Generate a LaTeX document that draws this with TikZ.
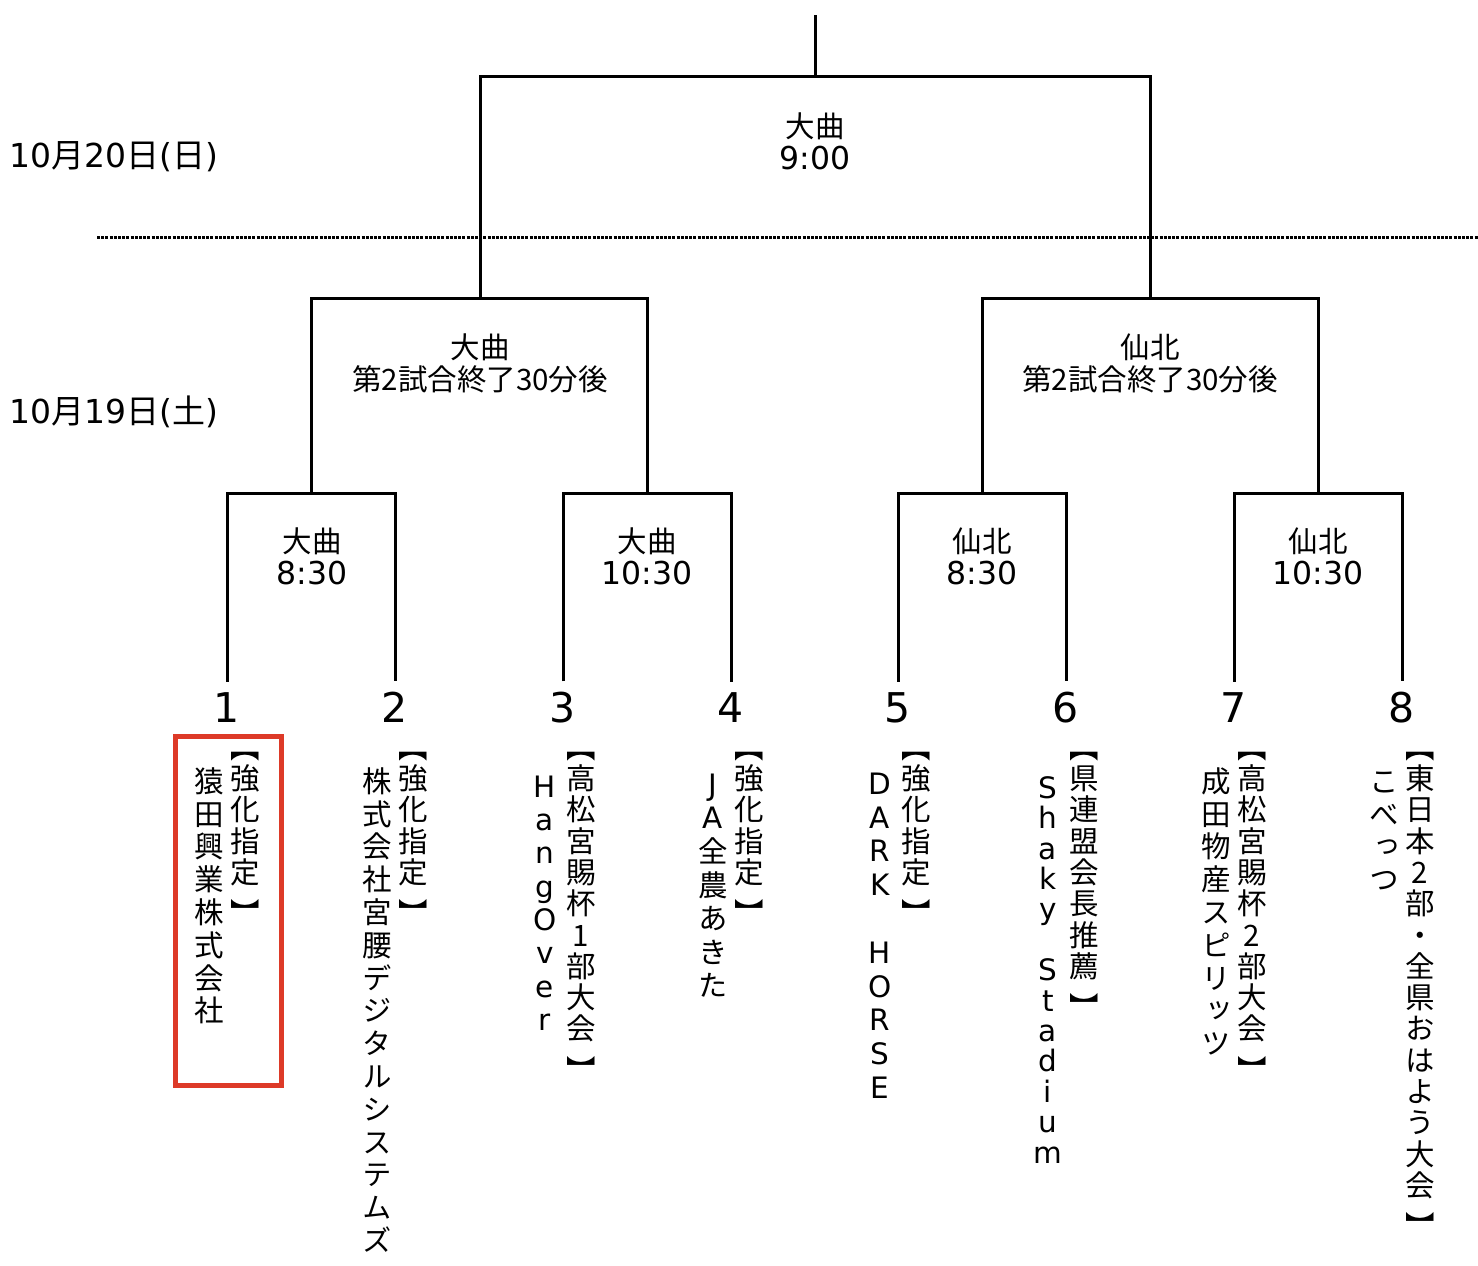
\documentclass[tikz,border=0pt]{standalone}
\usepackage{fontspec}
\setmainfont{Noto Sans CJK JP}
\newfontfamily\latfont{DejaVu Sans}
\newfontfamily\tatefont[RawFeature=+vert]{Noto Sans CJK JP}
\newcommand\lat[1]{{\latfont #1}}
\newcommand\tim[1]{{\latfont\fontsize{31.5}{32}\selectfont #1}}
\newcommand\kakko{\raisebox{-10pt}{】}}
\definecolor{boxred}{RGB}{221,58,40}

% vertical stack of characters: [font][pitch]{text}
\ExplSyntaxOn
\NewDocumentCommand \tate { O{} O{31.3pt} m }
  {
    \vbox
      {
        \baselineskip = #2 \relax
        \lineskiplimit = -\maxdimen
        \tl_map_inline:nn {#3}
          { \hbox_to_wd:nn { 32pt } { \hss #1 {##1} \hss \vrule height~25pt~depth~6pt~width~0pt } }
      }
  }
\ExplSyntaxOff

\tikzset{
  bline/.style={line width=3pt},
  dotline/.style={line width=3pt, dash pattern=on 3pt off 1.2pt},
  lbl/.style={align=center, inner sep=0pt, font=\fontsize{29.5}{32}\selectfont},
  datelbl/.style={anchor=west, inner sep=0pt, font=\fontsize{33}{33}\selectfont},
  num/.style={anchor=base, inner xsep=0pt, inner ysep=10pt, font=\latfont\fontsize{41}{41}\selectfont},
  tate/.style={anchor=north, inner sep=0pt, font=\tatefont\fontsize{29.5}{31}\selectfont},
}

\begin{document}
\begin{tikzpicture}[x=1pt,y=-1pt]
    \useasboundingbox (0,0) rectangle (1478,1266);

    % dates
    \node[datelbl] (d20) at (9,157) {\lat{10}月\lat{20}日\lat{(}日\lat{)}};
    \node[datelbl] (d19) at (9,412) {\lat{10}月\lat{19}日\lat{(}土\lat{)}};
    \draw[dotline] (97,237) -- (1478,237);

    % bracket points
    \coordinate (top) at (815,15);
    \coordinate (f) at (815,76);
    \coordinate (s1) at (480,298);
    \coordinate (s2) at (1150,298);
    \coordinate (q1) at (311,493);
    \coordinate (q2) at (647,493);
    \coordinate (q3) at (982,493);
    \coordinate (q4) at (1318,493);

    % team numbers
    \foreach \x [count=\i] in {227,395,563,731,898,1066,1234,1402}
        \node[num] (n\i) at (\x,722) {\i};

    \foreach \i/\j/\q in {1/2/q1,3/4/q2,5/6/q3,7/8/q4}
        \draw[bline] (n\i.north) |- (\q) -| (n\j.north);
    \draw[bline] (q1) |- (s1) -| (q2);
    \draw[bline] (q3) |- (s2) -| (q4);
    \draw[bline] (s1) |- (f) -| (s2);
    \draw[bline] (f) -- (top);

    % venues and times
    \node[lbl] (lf) at (815,141) {大曲\\\tim{9:00}};
    \node[lbl] (ls1) at (480,363) {大曲\\第2試合終了30分後};
    \node[lbl] (ls2) at (1150,363) {仙北\\第2試合終了30分後};
    \node[lbl] (lq1) at (312,556) {大曲\\\tim{8:30}};
    \node[lbl] (lq2) at (647,556) {大曲\\\tim{10:30}};
    \node[lbl] (lq3) at (982,556) {仙北\\\tim{8:30}};
    \node[lbl] (lq4) at (1318,556) {仙北\\\tim{10:30}};

    % teams
    \node[tate] (b1) at (245,733) {\tate{【強化指定{\kakko}}};
    \node[tate] (t1) at (209,767) {\tate[][32.8pt]{猿田興業株式会社}};
    \node[tate] (b2) at (413,733) {\tate{【強化指定{\kakko}}};
    \node[tate] (t2) at (377,767) {\tate[][32.8pt]{株式会社宮腰デジタルシステムズ}};
    \node[tate] (b3) at (581,733) {\tate{【高松宮賜杯1部大会{\kakko}}};
    \node[tate] (t3) at (545,772) {\tate[\lat][33.3pt]{HangOver}};
    \node[tate] (b4) at (749,733) {\tate{【強化指定{\kakko}}};
    \node[tate] (t4) at (713,770) {\tate[][33.6pt]{{\lat J}{\lat A}全農あきた}};
    \node[tate] (b5) at (916,733) {\tate{【強化指定{\kakko}}};
    \node[tate] (t5) at (880,769) {\tate[\lat][33.8pt]{DARK~HORSE}};
    \node[tate] (b6) at (1084,733) {\tate{【県連盟会長推薦{\kakko}}};
    \node[tate] (t6) at (1048,773) {\tate[\lat][30.4pt]{Shaky~Stadium}};
    \node[tate] (b7) at (1252,733) {\tate{【高松宮賜杯2部大会{\kakko}}};
    \node[tate] (t7) at (1216,767) {\tate[][32.8pt]{成田物産スピリッツ}};
    \node[tate] (b8) at (1420,733) {\tate{【東日本2部・全県おはよう大会{\kakko}}};
    \node[tate] (t8) at (1384,767) {\tate[][32.8pt]{こべっつ}};

    \draw[boxred, line width=5pt] (175,736) rectangle (281.5,1085);
\end{tikzpicture}
\end{document}
